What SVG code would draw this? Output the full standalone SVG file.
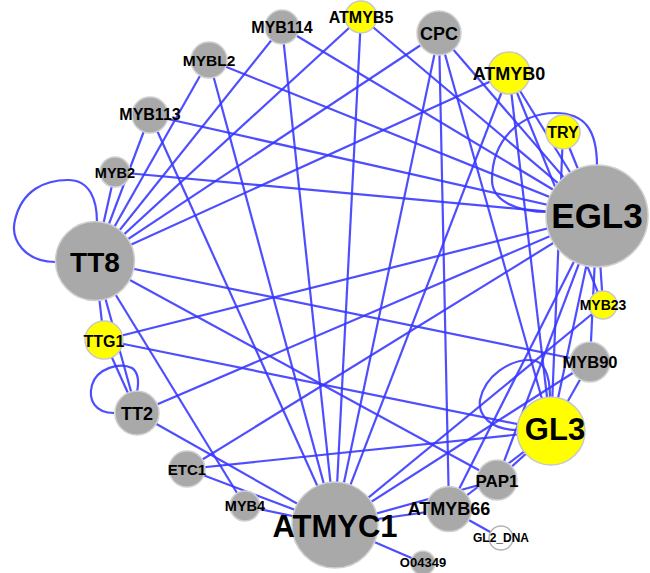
<svg xmlns="http://www.w3.org/2000/svg" width="650" height="573" viewBox="0 0 650 573">
<style>
.e{stroke:#3535ff;stroke-width:2.2;stroke-opacity:0.88;fill:none}
.n{fill:#a9a9a9;stroke:#d0d0d0;stroke-width:1.5}
.y{fill:#ffff00;stroke:#c8c8c8;stroke-width:1.5}
.w{fill:#ffffff;stroke:#b4b4b4;stroke-width:1.5}
text{font-family:"Liberation Sans",Arial,sans-serif;font-weight:bold;fill:#000;text-anchor:middle}
</style>
<rect width="650" height="573" fill="#ffffff"/>
<g id="connectors">
<line class="e" x1="95" y1="261" x2="115" y2="172"/>
<line class="e" x1="95" y1="261" x2="150" y2="115"/>
<line class="e" x1="95" y1="261" x2="209" y2="60"/>
<line class="e" x1="95" y1="261" x2="282" y2="27"/>
<line class="e" x1="95" y1="261" x2="361" y2="17"/>
<line class="e" x1="95" y1="261" x2="439" y2="33"/>
<line class="e" x1="95" y1="261" x2="509" y2="73"/>
<line class="e" x1="95" y1="261" x2="104" y2="340"/>
<line class="e" x1="95" y1="261" x2="137" y2="413"/>
<line class="e" x1="95" y1="261" x2="245" y2="506"/>
<line class="e" x1="95" y1="261" x2="590" y2="362"/>
<line class="e" x1="95" y1="261" x2="497" y2="480"/>
<line class="e" x1="597" y1="216" x2="115" y2="172"/>
<line class="e" x1="597" y1="216" x2="150" y2="115"/>
<line class="e" x1="597" y1="216" x2="209" y2="60"/>
<line class="e" x1="597" y1="216" x2="282" y2="27"/>
<line class="e" x1="597" y1="216" x2="361" y2="17"/>
<line class="e" x1="597" y1="216" x2="439" y2="33"/>
<line class="e" x1="597" y1="216" x2="509" y2="73"/>
<line class="e" x1="597" y1="216" x2="563" y2="132"/>
<line class="e" x1="597" y1="216" x2="104" y2="340"/>
<line class="e" x1="597" y1="216" x2="137" y2="413"/>
<line class="e" x1="597" y1="216" x2="187" y2="469"/>
<line class="e" x1="597" y1="216" x2="603" y2="305"/>
<line class="e" x1="597" y1="216" x2="590" y2="362"/>
<line class="e" x1="597" y1="216" x2="497" y2="480"/>
<line class="e" x1="597" y1="216" x2="449" y2="509"/>
<line class="e" x1="597" y1="216" x2="551" y2="431"/>
<line class="e" x1="335" y1="525" x2="150" y2="115"/>
<line class="e" x1="335" y1="525" x2="209" y2="60"/>
<line class="e" x1="335" y1="525" x2="282" y2="27"/>
<line class="e" x1="335" y1="525" x2="361" y2="17"/>
<line class="e" x1="335" y1="525" x2="439" y2="33"/>
<line class="e" x1="335" y1="525" x2="509" y2="73"/>
<line class="e" x1="335" y1="525" x2="137" y2="413"/>
<line class="e" x1="335" y1="525" x2="187" y2="469"/>
<line class="e" x1="335" y1="525" x2="245" y2="506"/>
<line class="e" x1="335" y1="525" x2="423" y2="563"/>
<line class="e" x1="335" y1="525" x2="449" y2="509"/>
<line class="e" x1="335" y1="525" x2="497" y2="480"/>
<line class="e" x1="335" y1="525" x2="603" y2="305"/>
<line class="e" x1="335" y1="525" x2="590" y2="362"/>
<line class="e" x1="551" y1="431" x2="563" y2="132"/>
<line class="e" x1="551" y1="431" x2="509" y2="73"/>
<line class="e" x1="551" y1="431" x2="439" y2="33"/>
<line class="e" x1="551" y1="431" x2="104" y2="340"/>
<line class="e" x1="551" y1="431" x2="187" y2="469"/>
<line class="e" x1="551" y1="431" x2="590" y2="362"/>
<line class="e" x1="551" y1="431" x2="497" y2="480"/>
<line class="e" x1="551" y1="431" x2="449" y2="509"/>
<line class="e" x1="104" y1="340" x2="137" y2="413"/>
<line class="e" x1="439" y1="33" x2="449" y2="509"/>
<line class="e" x1="449" y1="509" x2="501" y2="538"/>
<line class="e" x1="509" y1="73" x2="603" y2="305"/>
<path class="e" d="M56,262 C25,262 10,240 15,220 C22,190 45,180 68,180 C90,180 97,200 97,222"/>
<path class="e" d="M114,413 C95,413 88,400 92,385 C97,368 120,362 132,368 C139,373 139,382 137,392"/>
<path class="e" d="M549,212 C515,212 492,200 492,180 C492,140 520,113 555,113 C585,113 597,130 597,166"/>
<path class="e" d="M518,430 C490,430 478,415 480,400 C485,375 510,360 530,360 C545,360 550,375 550,398"/>
</g>
<g id="MYB114"><circle class="n" cx="282" cy="27" r="17"/><text x="282" y="33" font-size="16">MYB114</text></g>
<g id="ATMYB5"><circle class="y" cx="361" cy="17" r="16"/><text x="361" y="23" font-size="16">ATMYB5</text></g>
<g id="CPC"><circle class="n" cx="439" cy="33" r="22"/><text x="439" y="40" font-size="18">CPC</text></g>
<g id="ATMYB0"><circle class="y" cx="509" cy="73" r="21"/><text x="509" y="79.5" font-size="18">ATMYB0</text></g>
<g id="TRY"><circle class="y" cx="563" cy="132" r="17"/><text x="563" y="137.5" font-size="16">TRY</text></g>
<g id="EGL3"><circle class="n" cx="597" cy="216" r="51"/><text x="597" y="228" font-size="35">EGL3</text></g>
<g id="MYB23"><circle class="y" cx="603" cy="305" r="14"/><text x="603" y="310" font-size="14">MYB23</text></g>
<g id="MYB90"><circle class="n" cx="590" cy="362" r="20"/><text x="590" y="368" font-size="16.5">MYB90</text></g>
<g id="GL3"><circle class="y" cx="551" cy="431" r="34"/><text x="555" y="440" font-size="31">GL3</text></g>
<g id="PAP1"><circle class="n" cx="497" cy="480" r="20"/><text x="497" y="487" font-size="17">PAP1</text></g>
<g id="ATMYB66"><circle class="n" cx="449" cy="509" r="22.5"/><text x="449" y="515" font-size="18">ATMYB66</text></g>
<g id="GL2_DNA"><circle class="w" cx="501" cy="538" r="12"/><text x="501" y="542" font-size="12">GL2_DNA</text></g>
<g id="O04349"><circle class="n" cx="423" cy="563" r="12"/><text x="423" y="567" font-size="13">O04349</text></g>
<g id="ATMYC1"><circle class="n" cx="335" cy="525" r="43"/><text x="335" y="537" font-size="31">ATMYC1</text></g>
<g id="MYB4"><circle class="n" cx="245" cy="506" r="15"/><text x="245" y="511" font-size="14.5">MYB4</text></g>
<g id="ETC1"><circle class="n" cx="187" cy="469" r="18"/><text x="187" y="475" font-size="15">ETC1</text></g>
<g id="TT2"><circle class="n" cx="137" cy="413" r="22"/><text x="137" y="420" font-size="18">TT2</text></g>
<g id="TTG1"><circle class="y" cx="104" cy="340" r="19"/><text x="104" y="346.5" font-size="16">TTG1</text></g>
<g id="TT8"><circle class="n" cx="95" cy="261" r="39.5"/><text x="95" y="272" font-size="28">TT8</text></g>
<g id="MYB2"><circle class="n" cx="115" cy="172" r="15"/><text x="115" y="177.5" font-size="14.5">MYB2</text></g>
<g id="MYB113"><circle class="n" cx="150" cy="115" r="18"/><text x="150" y="119.5" font-size="16">MYB113</text></g>
<g id="MYBL2"><circle class="n" cx="209" cy="60" r="18"/><text x="209" y="66" font-size="15.5">MYBL2</text></g>
</svg>
